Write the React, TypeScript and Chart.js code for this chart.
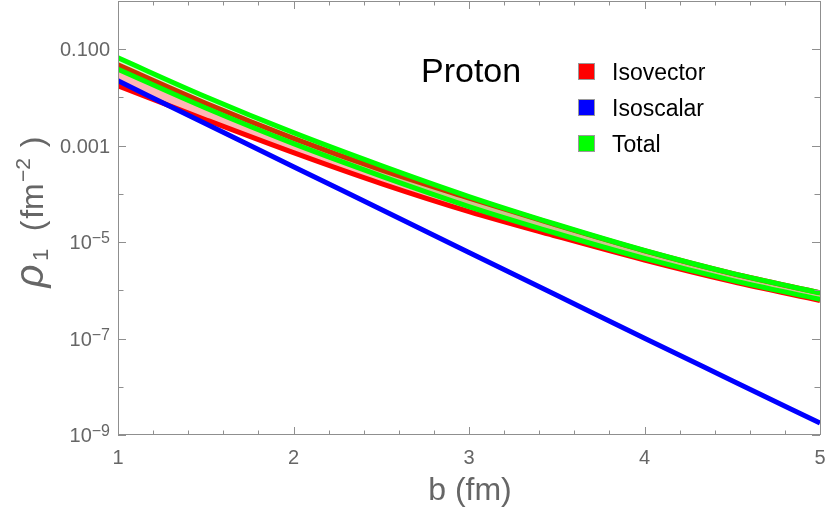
import React, { useEffect, useRef } from 'react';
import { Chart, registerables } from 'chart.js';

Chart.register(...registerables);

// impact parameter b (fm)
const bValues = [1, 1.5, 2, 2.5, 3, 3.5, 4, 4.5, 5];

// Isovector band (red)
const isovectorUpper = [0.0474, 7.57e-3, 1.42e-3, 3.15e-4, 8.2e-5, 2.24e-5, 6.61e-6, 2.23e-6, 8.85e-7];
const isovectorLower = [0.0174, 3.45e-3, 7.16e-4, 1.637e-4, 4.3e-5, 1.32e-5, 4.25e-6, 1.52e-6, 6.15e-7];

// Isoscalar (blue)
const isoscalar = [0.0221, 2.85e-3, 3.67e-4, 4.74e-5, 6.11e-6, 7.87e-7, 1.014e-7, 1.34e-8, 1.77e-9];

// Total band (green)
const totalUpper = [0.0662, 0.01033, 1.858e-3, 3.855e-4, 8.81e-5, 2.317e-5, 6.71e-6, 2.244e-6, 8.87e-7];
const totalLower = [0.0383, 6.03e-3, 1.099e-3, 2.339e-4, 5.47e-5, 1.51e-5, 4.59e-6, 1.61e-6, 6.5e-7];

// ticks
const xMajorTicks = [1, 2, 3, 4, 5];
const xMinorTicks = [1.2, 1.4, 1.6, 1.8, 2.2, 2.4, 2.6, 2.8, 3.2, 3.4, 3.6, 3.8, 4.2, 4.4, 4.6, 4.8];
const yDecades = [1, 1e-1, 1e-2, 1e-3, 1e-4, 1e-5, 1e-6, 1e-7, 1e-8, 1e-9];
const yLabelValues = [1e-1, 1e-3, 1e-5, 1e-7, 1e-9];
const yLabelMantissas = ['0.100', '0.001', '10', '10', '10'];
const yLabelExponents = ['', '', '\u22125', '\u22127', '\u22129'];

const legendLabels = ['Isovector', 'Isoscalar', 'Total'];
const legendColors = ['#ff0000', '#0000ff', '#00ff00'];
const plotTitle = 'Proton';
const xTitle = 'b (fm)';

const SANS = '"Liberation Sans", Arial, sans-serif';
const GRAY = '#666666';
const FRAME = '#8f8f8f';

const decorPlugin = {
  id: 'decor',
  afterDraw(chart: any) {
    const { ctx, chartArea, scales } = chart;
    const xs = scales.x;
    const ys = scales.y;
    const { left, right, top, bottom } = chartArea;
    ctx.save();
    // frame
    ctx.strokeStyle = FRAME;
    ctx.lineWidth = 1;
    ctx.beginPath();
    ctx.rect(Math.round(left) + 0.5, Math.round(top) + 0.5, Math.round(right - left), Math.round(bottom - top) - 1);
    ctx.stroke();
    // x ticks
    ctx.beginPath();
    const xt = (v: number, len: number) => {
      const px = Math.round(xs.getPixelForValue(v)) + 0.5;
      ctx.moveTo(px, bottom);
      ctx.lineTo(px, bottom - len);
      ctx.moveTo(px, top);
      ctx.lineTo(px, top + len);
    };
    xMajorTicks.forEach((v) => xt(v, 8));
    xMinorTicks.forEach((v) => xt(v, 4.5));
    const yt = (v: number, len: number) => {
      const py = Math.round(ys.getPixelForValue(v)) + 0.5;
      ctx.moveTo(left, py);
      ctx.lineTo(left + len, py);
      ctx.moveTo(right, py);
      ctx.lineTo(right - len, py);
    };
    yDecades.forEach((v) => yt(v, yLabelValues.includes(v) ? 8 : 5.5));
    ctx.stroke();

    // y tick labels
    ctx.fillStyle = GRAY;
    ctx.textBaseline = 'alphabetic';
    yLabelValues.forEach((v, i) => {
      const py = ys.getPixelForValue(v);
      const rx = 110;
      const exp = yLabelExponents[i];
      let expW = 0;
      if (exp) {
        ctx.font = `16px ${SANS}`;
        expW = ctx.measureText(exp).width;
        ctx.textAlign = 'right';
        ctx.fillText(exp, rx, py + 1);
      }
      ctx.font = `20px ${SANS}`;
      ctx.textAlign = 'right';
      ctx.fillText(yLabelMantissas[i], rx - expW, py + 7);
    });

    // x title
    ctx.font = `32px ${SANS}`;
    ctx.textAlign = 'center';
    ctx.fillStyle = GRAY;
    ctx.fillText(xTitle, 470, 500);

    // y title (rotated)
    ctx.save();
    ctx.translate(43, 290);
    ctx.rotate(-Math.PI / 2);
    ctx.textAlign = 'center';
    ctx.font = `italic 40px ${SANS}`;
    ctx.fillText('\u03c1', 14, 0);
    ctx.font = `22px ${SANS}`;
    ctx.fillText('1', 35, 5);
    ctx.font = `32px ${SANS}`;
    ctx.fillText('(', 64, 0);
    ctx.fillText('fm', 89, 0);
    ctx.font = `21px ${SANS}`;
    ctx.fillText('\u22122', 120, -13);
    ctx.font = `32px ${SANS}`;
    ctx.fillText(')', 148, 0);
    ctx.restore();

    // plot label
    ctx.fillStyle = '#000000';
    ctx.textAlign = 'left';
    ctx.font = `34px ${SANS}`;
    ctx.fillText(plotTitle, 421, 82);

    // legend
    legendLabels.forEach((lab, i) => {
      const y0 = 63 + i * 36;
      ctx.fillStyle = legendColors[i];
      ctx.fillRect(578, y0, 17, 17);
      ctx.strokeStyle = '#9a9a9a';
      ctx.lineWidth = 1;
      ctx.strokeRect(578.5, y0 + 0.5, 16, 16);
      ctx.fillStyle = '#000000';
      ctx.font = `23px ${SANS}`;
      ctx.fillText(lab, 612, y0 + 17);
    });
    ctx.restore();
  },
};

function pts(arr: number[]) {
  return bValues.map((b, i) => ({ x: b, y: arr[i] }));
}

export default function App() {
  const ref = useRef<HTMLCanvasElement | null>(null);
  useEffect(() => {
    if (!ref.current) return;
    const common = {
      pointRadius: 0,
      borderWidth: 5,
      cubicInterpolationMode: 'monotone' as const,
      clip: 0,
      borderCapStyle: 'butt' as const,
    };
    const chart = new Chart(ref.current, {
      type: 'line',
      data: {
        datasets: [
          { ...common, label: 'Total upper', data: pts(totalUpper), borderColor: '#00ff00', fill: false },
          { ...common, label: 'Total lower', data: pts(totalLower), borderColor: '#00ff00', fill: 0, backgroundColor: 'rgba(0,255,0,0.2)' },
          { ...common, label: 'Isoscalar', data: pts(isoscalar), borderColor: '#0000ff', fill: false },
          { ...common, label: 'Isovector upper', data: pts(isovectorUpper), borderColor: '#ff0000', fill: false },
          { ...common, label: 'Isovector lower', data: pts(isovectorLower), borderColor: '#ff0000', fill: 3, backgroundColor: 'rgba(255,120,120,0.55)' },
        ],
      },
      options: {
        animation: false,
        responsive: false,
        layout: { padding: { top: 1, right: 12, left: 0, bottom: 0 } },
        plugins: { legend: { display: false }, tooltip: { enabled: false } },
        scales: {
          x: {
            type: 'linear',
            min: 1,
            max: 5,
            afterBuildTicks: (s: any) => {
              s.ticks = xMajorTicks.map((v) => ({ value: v }));
            },
            afterFit: (s: any) => {
              s.height = 86;
              s.paddingRight = 0;
              s.paddingLeft = 0;
            },
            ticks: { font: { family: SANS, size: 20 }, color: GRAY, padding: 11, maxRotation: 0, autoSkip: false },
            grid: { display: false, drawTicks: false },
            border: { display: false },
          },
          y: {
            type: 'logarithmic',
            min: 1e-9,
            max: 1,
            afterBuildTicks: (s: any) => {
              s.ticks = yDecades.map((v) => ({ value: v }));
            },
            afterFit: (s: any) => {
              s.width = 118;
              s.paddingTop = 0;
              s.paddingBottom = 0;
            },
            ticks: { display: false },
            grid: { display: false, drawTicks: false },
            border: { display: false },
          },
        },
      },
      plugins: [decorPlugin],
    });
    return () => chart.destroy();
  }, []);
  return (
    <div style={{ position: 'fixed', left: 0, top: 0, width: 832, height: 521, background: '#fff' }}>
      <canvas ref={ref} width={832} height={521} style={{ display: 'block' }} />
    </div>
  );
}
